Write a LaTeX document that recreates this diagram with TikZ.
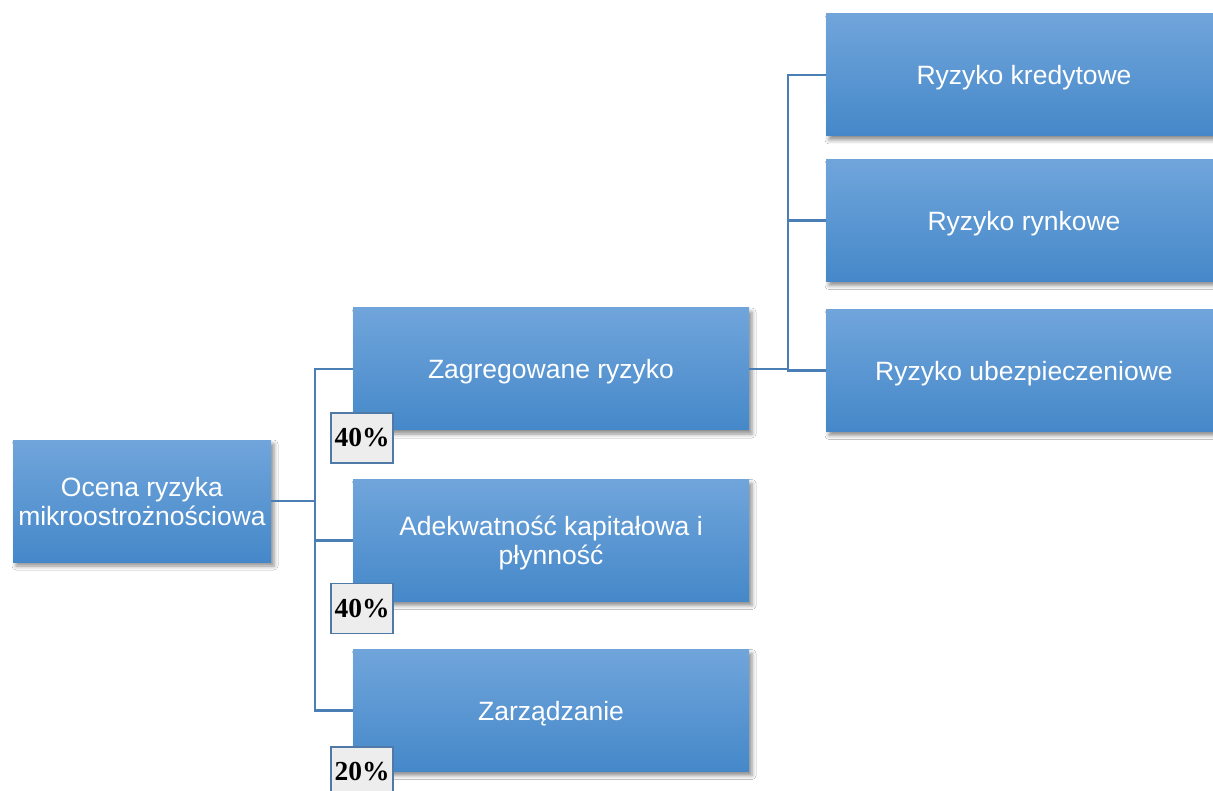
\documentclass[tikz,border=0pt]{standalone}
\usepackage{fontspec}
\setmainfont{Liberation Sans}
\newfontfamily\tnr{Liberation Serif}
\usetikzlibrary{shadows,shadows.blur}
\definecolor{boxtop}{HTML}{70A5DB}
\definecolor{boxbot}{HTML}{4588C9}
\definecolor{linec}{HTML}{4A7EB5}
\definecolor{pctfill}{HTML}{EDEDED}
\definecolor{pctdraw}{HTML}{4F7AA8}
\begin{document}
\begin{tikzpicture}[x=1pt,y=1pt,
  bluebox/.style={rectangle, inner sep=0pt, minimum width=396pt, minimum height=122pt,
    top color=boxtop, bottom color=boxbot, text=white, align=center,
    font=\fontsize{26.5}{29}\selectfont, text depth=0pt,
    blur shadow={shadow xshift=3pt, shadow yshift=-4pt, shadow blur radius=4pt, shadow opacity=45}},
  pctbox/.style={rectangle, inner sep=0pt, minimum width=62pt, minimum height=50pt,
    fill=pctfill, draw=pctdraw, line width=1.4pt, font=\tnr\bfseries\fontsize{27.5}{29}\selectfont},
  conn/.style={draw=linec, line width=2.4pt}]
\clip (0,0) rectangle (1213,-791);
\fill[white] (0,0) rectangle (1213,-791);
% junctions
\coordinate (j1) at (315,-501);
\coordinate (j2) at (788,-369);
% boxes
\node[bluebox, minimum width=258pt] (root) at (142,-501) {Ocena ryzyka\\mikroostrożnościowa};
\node[bluebox] (zag) at (551,-369) {Zagregowane ryzyko};
\node[bluebox] (ade) at (551,-540.5) {Adekwatność kapitałowa i\\płynność};
\node[bluebox] (zar) at (551,-710.5) {Zarządzanie};
\node[bluebox] (kre) at (1024,-75) {Ryzyko kredytowe};
\node[bluebox] (ryn) at (1024,-220.5) {Ryzyko rynkowe};
\node[bluebox] (ube) at (1024,-370.5) {Ryzyko ubezpieczeniowe};
% connectors
\draw[conn] (root.east) -- (j1);
\draw[conn] (j1) |- (zag.west);
\draw[conn] (j1) |- (ade.west);
\draw[conn] (j1) |- (zar.west);
\draw[conn] (zag.east) -- (j2);
\draw[conn] (j2) |- (kre.west);
\draw[conn] (j2) |- (ryn.west);
\draw[conn] (j2) |- (ube.west);
% percentages
\node[pctbox] (p1) at (362,-438) {40\%};
\node[pctbox] (p2) at (362,-608.5) {40\%};
\node[pctbox] (p3) at (362,-772) {20\%};
\end{tikzpicture}
\end{document}
